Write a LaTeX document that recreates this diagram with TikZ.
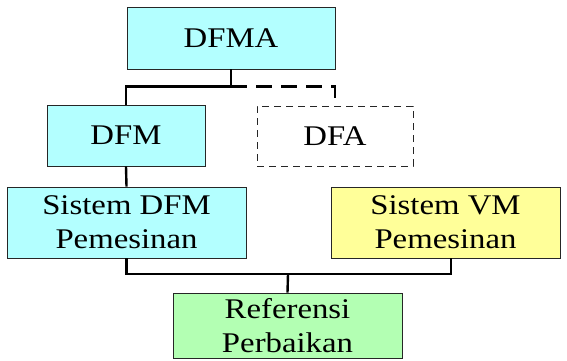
\documentclass[tikz,border=0pt]{standalone}
\usepackage{fontspec}
\setmainfont[FakeStretch=1.15]{Liberation Serif}
\definecolor{cy}{HTML}{B3FFFF}
\definecolor{ye}{HTML}{FFFF99}
\definecolor{gr}{HTML}{B3FFB3}
\begin{document}
\begin{tikzpicture}[x=1pt,y=-1pt,
  box/.style={draw=black!85, line width=0.9pt, align=center, inner sep=0pt,
    font=\fontsize{28.5}{34}\selectfont},
  cyanbox/.style={box, fill=cy},
  link/.style={line width=2.4pt, line join=miter}]
\useasboundingbox (0,0) rectangle (567,361);
\node[cyanbox, minimum width=208pt, minimum height=62pt] (dfma) at (231,38) {DFMA};
\node[cyanbox, minimum width=158pt, minimum height=61pt] (dfm) at (126,135.5) {DFM};
\node[box, dashed, dash pattern=on 7pt off 5pt, minimum width=156pt, minimum height=60pt] (dfa) at (335,136) {DFA};
\node[cyanbox, minimum width=239pt, minimum height=71pt] (sdfm) at (126.5,222.5) {Sistem DFM\\Pemesinan};
\node[box, fill=ye, minimum width=229pt, minimum height=71pt] (svm) at (445.5,222.5) {Sistem VM\\Pemesinan};
\node[box, fill=gr, minimum width=229pt, minimum height=65pt] (ref) at (287.5,325.5) {Referensi\\Perbaikan};
\coordinate (svmb) at (451,258);
\coordinate (join) at (288,274);
\draw[link] (dfma.south) -- ++(0,17) -| (dfm.north);
\draw[link, dash pattern=on 16pt off 9pt] (dfma.south) ++(0,17) -| (dfa.north);
\draw[link] (dfm.south) -- (sdfm.north);
\draw[link] (sdfm.south) |- (join) -| (svmb);
\draw[link] (join) -- (ref.north);
\end{tikzpicture}
\end{document}
